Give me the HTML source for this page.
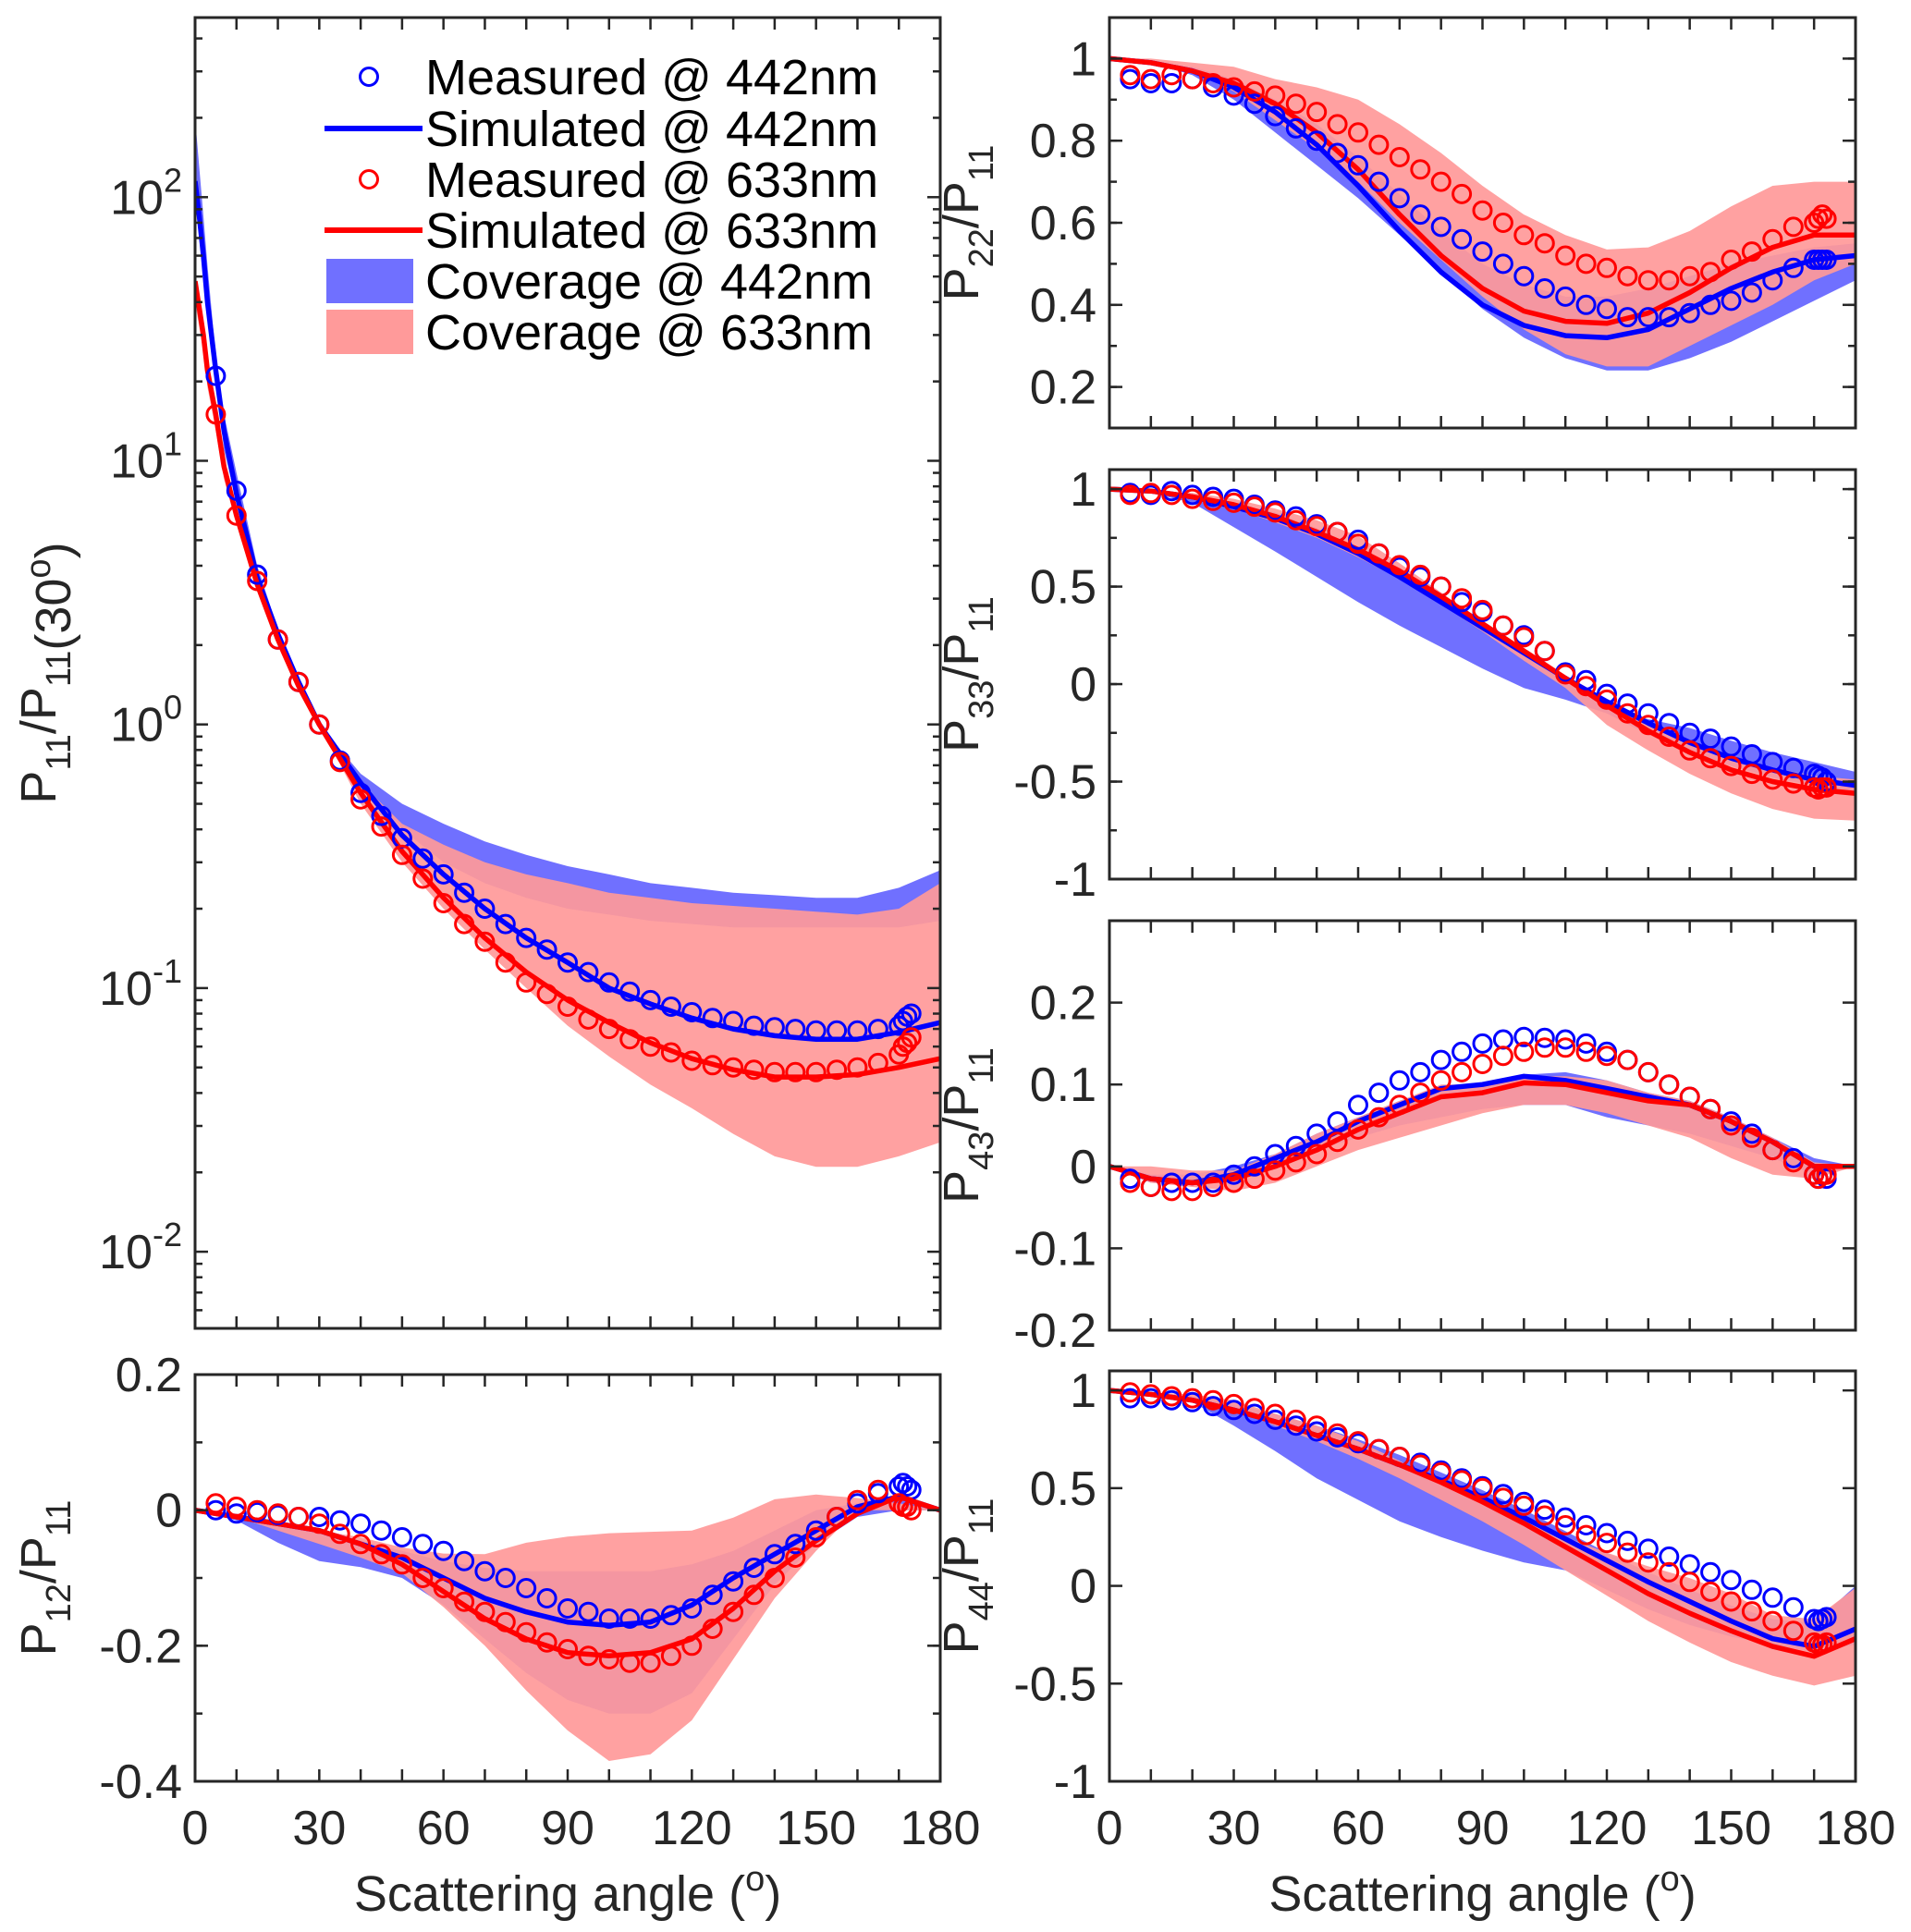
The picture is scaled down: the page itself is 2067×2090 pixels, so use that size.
<!DOCTYPE html>
<html><head><meta charset="utf-8"><style>
html,body{margin:0;padding:0;background:#fff;}
svg{display:block;font-family:"Liberation Sans",Arial,sans-serif;}
</style></head><body>
<svg id="fig" width="2067" height="2090" viewBox="0 0 2067 2090" xmlns="http://www.w3.org/2000/svg"></svg>
<script>
// ---------- DATA ----------
const measAngles = [5,10,15,20,25,30,35,40,45,50,55,60,65,70,75,80,85,90,95,100,105,110,115,120,125,130,135,140,145,150,155,160,165,170,171,172,173];

// P11/P11(30)
const p11MeasBlue = [21,7.7,3.7,2.1,1.45,1.0,0.73,0.55,0.45,0.37,0.31,0.27,0.23,0.2,0.175,0.155,0.14,0.125,0.115,0.105,0.097,0.09,0.085,0.081,0.077,0.075,0.072,0.071,0.07,0.069,0.069,0.069,0.07,0.072,0.075,0.078,0.08];
const p11MeasRed = [15,6.2,3.5,2.1,1.45,1.0,0.72,0.52,0.41,0.32,0.26,0.21,0.175,0.15,0.125,0.105,0.095,0.085,0.076,0.07,0.064,0.06,0.057,0.053,0.051,0.05,0.049,0.048,0.048,0.048,0.049,0.05,0.052,0.056,0.06,0.062,0.065];
const p11SimAngles = [0,1,2,3,5,7,10,15,20,25,30,40,50,60,70,80,90,100,110,120,130,140,150,160,170,180];
const p11SimBlue = [115,85,60,40,22,13,7.5,3.6,2.2,1.45,1.0,0.6,0.38,0.27,0.2,0.155,0.125,0.1,0.087,0.077,0.07,0.066,0.064,0.064,0.068,0.074];
const p11SimRed = [48,38,30,22,15,9.5,6.2,3.4,2.1,1.4,1.0,0.55,0.33,0.22,0.155,0.115,0.09,0.074,0.062,0.054,0.049,0.046,0.046,0.047,0.05,0.054];
const p11CovBlueHi = [200,130,85,55,25,15,9,4,2.3,1.5,1.0,0.65,0.5,0.42,0.36,0.32,0.29,0.27,0.25,0.24,0.23,0.225,0.22,0.22,0.24,0.28];
const p11CovBlueLo = [100,70,50,35,20,11,7,3.4,2.1,1.4,1.0,0.6,0.4,0.3,0.25,0.22,0.2,0.19,0.18,0.175,0.17,0.17,0.17,0.17,0.17,0.18];
const p11CovRedHi = [50,40,32,24,16,10,6.5,3.6,2.2,1.45,1.0,0.6,0.42,0.35,0.3,0.27,0.25,0.23,0.22,0.21,0.205,0.2,0.195,0.19,0.2,0.25];
const p11CovRedLo = [40,32,26,19,13,8.5,5.8,3.2,2.0,1.35,1.0,0.5,0.3,0.2,0.14,0.1,0.072,0.055,0.043,0.035,0.028,0.023,0.021,0.021,0.023,0.026];

// P12/P11
const p12MeasBlue = [0,-0.005,-0.003,-0.007,-0.01,-0.01,-0.015,-0.02,-0.03,-0.04,-0.05,-0.06,-0.075,-0.09,-0.1,-0.115,-0.13,-0.145,-0.15,-0.16,-0.16,-0.16,-0.155,-0.145,-0.125,-0.105,-0.085,-0.065,-0.05,-0.03,-0.01,0.01,0.025,0.035,0.04,0.035,0.03];
const p12MeasRed = [0.01,0.005,0,-0.005,-0.01,-0.02,-0.035,-0.05,-0.065,-0.08,-0.1,-0.115,-0.135,-0.15,-0.165,-0.18,-0.195,-0.205,-0.215,-0.22,-0.225,-0.225,-0.215,-0.2,-0.175,-0.15,-0.125,-0.1,-0.07,-0.04,-0.01,0.015,0.03,0.01,0.005,0.005,0];
const curveAngles = [0,10,20,30,40,50,60,70,80,90,100,110,120,130,140,150,160,170,180];
const p12SimBlue = [0,-0.01,-0.02,-0.03,-0.05,-0.07,-0.1,-0.13,-0.15,-0.165,-0.17,-0.165,-0.14,-0.1,-0.065,-0.03,0.005,0.02,0];
const p12SimRed = [0,-0.01,-0.02,-0.03,-0.05,-0.08,-0.12,-0.16,-0.19,-0.21,-0.215,-0.21,-0.19,-0.145,-0.09,-0.045,-0.005,0.02,0];
const p12CovBlueHi = [0,-0.005,-0.02,-0.03,-0.045,-0.06,-0.075,-0.085,-0.09,-0.09,-0.09,-0.09,-0.08,-0.06,-0.03,0,0.01,0.02,0];
const p12CovBlueLo = [0,-0.015,-0.048,-0.075,-0.084,-0.1,-0.14,-0.19,-0.24,-0.28,-0.3,-0.3,-0.27,-0.19,-0.11,-0.05,-0.01,0,0];
const p12CovRedHi = [0,-0.005,-0.02,-0.03,-0.04,-0.055,-0.064,-0.065,-0.048,-0.039,-0.034,-0.032,-0.03,-0.011,0.016,0.023,0.018,0.01,0];
const p12CovRedLo = [0,-0.01,-0.03,-0.05,-0.07,-0.093,-0.143,-0.2,-0.266,-0.325,-0.37,-0.36,-0.31,-0.22,-0.13,-0.06,0,0,0];

// P22/P11
const p22MeasBlue = [0.95,0.94,0.94,0.95,0.93,0.91,0.89,0.86,0.83,0.8,0.77,0.74,0.7,0.66,0.62,0.59,0.56,0.53,0.5,0.47,0.44,0.42,0.4,0.39,0.37,0.37,0.37,0.38,0.4,0.41,0.43,0.46,0.49,0.51,0.51,0.51,0.51];
const p22MeasRed = [0.96,0.95,0.96,0.95,0.94,0.93,0.92,0.91,0.89,0.87,0.84,0.82,0.79,0.76,0.73,0.7,0.67,0.63,0.6,0.57,0.55,0.52,0.5,0.49,0.47,0.46,0.46,0.47,0.48,0.51,0.53,0.56,0.59,0.6,0.61,0.62,0.61];
const p22SimBlue = [1,0.99,0.97,0.93,0.87,0.79,0.69,0.58,0.48,0.4,0.35,0.325,0.32,0.34,0.39,0.44,0.48,0.51,0.52];
const p22SimRed = [1,0.99,0.97,0.94,0.89,0.82,0.73,0.62,0.52,0.44,0.385,0.36,0.355,0.38,0.43,0.49,0.54,0.57,0.57];
const p22CovBlueHi = [1,0.99,0.98,0.95,0.9,0.84,0.76,0.67,0.58,0.5,0.45,0.42,0.42,0.44,0.47,0.5,0.52,0.54,0.55];
const p22CovBlueLo = [1,0.99,0.96,0.9,0.82,0.74,0.66,0.57,0.48,0.39,0.32,0.27,0.24,0.24,0.27,0.31,0.36,0.41,0.46];
const p22CovRedHi = [1,1,0.99,0.98,0.95,0.93,0.9,0.84,0.77,0.69,0.62,0.57,0.535,0.54,0.58,0.64,0.69,0.7,0.7];
const p22CovRedLo = [1,0.99,0.97,0.92,0.85,0.78,0.7,0.6,0.51,0.42,0.34,0.28,0.25,0.25,0.3,0.35,0.4,0.46,0.5];

// P33/P11
const p33MeasBlue = [0.98,0.97,0.99,0.97,0.96,0.95,0.92,0.89,0.86,0.82,0.78,0.74,0.67,0.6,0.55,0.5,0.42,0.37,0.3,0.25,0.17,0.06,0.02,-0.05,-0.1,-0.15,-0.2,-0.25,-0.28,-0.32,-0.36,-0.4,-0.43,-0.46,-0.47,-0.48,-0.5];
const p33MeasRed = [0.97,0.98,0.97,0.95,0.94,0.93,0.91,0.88,0.84,0.81,0.78,0.72,0.67,0.61,0.56,0.5,0.44,0.38,0.3,0.24,0.17,0.05,-0.01,-0.08,-0.15,-0.21,-0.27,-0.34,-0.38,-0.42,-0.46,-0.49,-0.51,-0.53,-0.54,-0.53,-0.53];
const p33SimBlue = [1,0.99,0.96,0.91,0.85,0.77,0.67,0.55,0.42,0.29,0.16,0.03,-0.09,-0.2,-0.3,-0.38,-0.44,-0.49,-0.52];
const p33SimRed = [1,0.99,0.96,0.92,0.86,0.78,0.69,0.58,0.45,0.31,0.17,0.03,-0.11,-0.24,-0.35,-0.44,-0.5,-0.54,-0.56];
const p33CovBlueHi = [1,0.99,0.97,0.93,0.88,0.8,0.7,0.58,0.45,0.31,0.17,0.03,-0.13,-0.18,-0.225,-0.29,-0.35,-0.4,-0.45];
const p33CovBlueLo = [1,0.98,0.93,0.805,0.68,0.55,0.42,0.3,0.19,0.08,-0.02,-0.08,-0.15,-0.26,-0.35,-0.42,-0.48,-0.52,-0.56];
const p33CovRedHi = [1,0.99,0.98,0.95,0.9,0.84,0.76,0.62,0.47,0.32,0.17,0.04,-0.09,-0.2,-0.3,-0.38,-0.43,-0.47,-0.49];
const p33CovRedLo = [1,0.99,0.95,0.9,0.83,0.75,0.65,0.54,0.41,0.27,0.12,-0.02,-0.21,-0.34,-0.46,-0.56,-0.64,-0.69,-0.7];

// P43/P11
const p43MeasBlue = [-0.015,-0.025,-0.02,-0.02,-0.02,-0.01,0,0.015,0.025,0.04,0.055,0.075,0.09,0.105,0.115,0.13,0.14,0.15,0.155,0.158,0.157,0.155,0.15,0.14,0.13,0.115,0.1,0.085,0.07,0.055,0.04,0.02,0.01,-0.01,-0.015,-0.01,-0.015];
const p43MeasRed = [-0.02,-0.025,-0.03,-0.03,-0.025,-0.02,-0.015,-0.005,0.005,0.015,0.03,0.045,0.06,0.075,0.09,0.105,0.115,0.125,0.135,0.14,0.145,0.145,0.14,0.135,0.13,0.115,0.1,0.085,0.07,0.05,0.035,0.02,0.005,-0.01,-0.015,-0.01,-0.01];
const p43SimBlue = [0,-0.015,-0.02,-0.01,0.01,0.03,0.055,0.075,0.095,0.1,0.11,0.105,0.095,0.085,0.075,0.055,0.03,0,0];
const p43SimRed = [0,-0.015,-0.02,-0.015,0,0.02,0.045,0.065,0.085,0.09,0.102,0.1,0.09,0.08,0.075,0.055,0.03,0,0];
const p43CovBlueHi = [0,-0.01,-0.01,0,0.015,0.04,0.06,0.08,0.095,0.1,0.112,0.115,0.105,0.09,0.08,0.06,0.035,0.01,0];
const p43CovBlueLo = [0,-0.02,-0.02,-0.015,0,0.02,0.035,0.05,0.06,0.07,0.075,0.075,0.06,0.05,0.04,0.025,0.01,-0.01,0];
const p43CovRedHi = [0,0,-0.005,-0.005,0.015,0.04,0.06,0.08,0.1,0.1,0.11,0.11,0.105,0.09,0.08,0.06,0.035,0.005,0];
const p43CovRedLo = [0,-0.02,-0.025,-0.03,-0.02,0,0.02,0.035,0.05,0.065,0.075,0.075,0.065,0.05,0.035,0.01,-0.01,-0.015,0];

// P44/P11
const p44MeasBlue = [0.96,0.96,0.95,0.94,0.92,0.9,0.88,0.85,0.82,0.79,0.76,0.73,0.7,0.66,0.63,0.59,0.55,0.51,0.47,0.43,0.39,0.35,0.31,0.27,0.23,0.19,0.15,0.11,0.07,0.03,-0.02,-0.06,-0.11,-0.17,-0.18,-0.17,-0.16];
const p44MeasRed = [0.99,0.98,0.97,0.96,0.95,0.93,0.91,0.88,0.85,0.82,0.78,0.74,0.7,0.66,0.62,0.58,0.54,0.5,0.45,0.41,0.36,0.31,0.26,0.22,0.17,0.12,0.07,0.02,-0.03,-0.08,-0.13,-0.18,-0.23,-0.29,-0.3,-0.3,-0.29];
const p44SimBlue = [1,0.98,0.95,0.9,0.84,0.77,0.7,0.62,0.54,0.45,0.35,0.24,0.13,0.02,-0.08,-0.18,-0.27,-0.31,-0.22];
const p44SimRed = [1,0.98,0.95,0.9,0.84,0.77,0.7,0.62,0.53,0.43,0.32,0.2,0.08,-0.04,-0.14,-0.23,-0.31,-0.36,-0.27];
const p44CovBlueHi = [1,0.99,0.97,0.93,0.88,0.82,0.75,0.67,0.58,0.49,0.39,0.28,0.17,0.07,-0.02,-0.1,-0.17,-0.19,0];
const p44CovBlueLo = [1,0.98,0.94,0.82,0.69,0.55,0.44,0.33,0.25,0.18,0.12,0.08,-0.02,-0.12,-0.2,-0.26,-0.3,-0.34,-0.3];
const p44CovRedHi = [1,0.99,0.98,0.95,0.88,0.82,0.74,0.64,0.53,0.43,0.33,0.25,0.17,0.1,0.04,-0.04,-0.15,-0.17,-0.01];
const p44CovRedLo = [1,0.99,0.96,0.9,0.82,0.74,0.65,0.55,0.44,0.33,0.21,0.08,-0.05,-0.18,-0.29,-0.39,-0.46,-0.51,-0.46];

const xTickLabels = ["0","30","60","90","120","150","180"];

// ---------- DRAWING ----------
const NS = "http://www.w3.org/2000/svg";
const svg = document.getElementById("fig");
const BLUE = "#0000ff", RED = "#ff0000";
function mk(tag, attrs, parent) {
  const e = document.createElementNS(NS, tag);
  for (const k in attrs) e.setAttribute(k, attrs[k]);
  (parent || svg).appendChild(e);
  return e;
}

function panel(cfg) {
  const g = mk("g", {});
  
  
  const tf = cfg.log ? (v => Math.log10(v)) : (v => v);
  const y0 = tf(cfg.ymin), y1 = tf(cfg.ymax);
  const X = a => cfg.x0 + (a / 180) * (cfg.x1 - cfg.x0);
  const Y = v => cfg.y1 - (tf(v) - y0) / (y1 - y0) * (cfg.y1 - cfg.y0);
  const clipId = "clip-" + cfg.name;
  const cp = mk("clipPath", { id: clipId }, g);
  mk("rect", { x: cfg.x0, y: cfg.y0, width: cfg.x1 - cfg.x0, height: cfg.y1 - cfg.y0 }, cp);
  const plot = mk("g", { "clip-path": "url(#" + clipId + ")" }, g);

  function band(ang, hi, lo, fill, op, nm) {
    let pts = ang.map((a, i) => X(a).toFixed(1) + "," + Y(hi[i]).toFixed(1));
    for (let i = ang.length - 1; i >= 0; i--) pts.push(X(ang[i]).toFixed(1) + "," + Y(lo[i]).toFixed(1));
    const p = mk("polygon", { points: pts.join(" "), fill: fill, "fill-opacity": op }, plot);
    
    
  }
  function line(ang, vals, col, nm) {
    const pts = ang.map((a, i) => X(a).toFixed(1) + "," + Y(vals[i]).toFixed(1)).join(" ");
    const p = mk("polyline", { points: pts, fill: "none", stroke: col, "stroke-width": 5.5, "stroke-linejoin": "round" }, plot);
    
    
  }
  function markers(vals, col, nm) {
    const mg = mk("g", {}, g);
    
    
    measAngles.forEach((a, i) => {
      const c = mk("circle", { cx: X(a).toFixed(1), cy: Y(vals[i]).toFixed(1), r: 9.5, fill: "none", stroke: col, "stroke-width": 3 }, mg);
      
      
    });
  }
  const d = cfg.d;
  band(d.ang, d.bHi, d.bLo, "#7070ff", 1, "coverage-442nm");
  band(d.ang, d.rHi, d.rLo, "#ff9999", 0.92, "coverage-633nm");
  markers(d.mB, BLUE, "measured-442nm");
  markers(d.mR, RED, "measured-633nm");
  line(d.ang, d.sB, BLUE, "simulated-442nm");
  line(d.ang, d.sR, RED, "simulated-633nm");

  const box = mk("rect", { x: cfg.x0, y: cfg.y0, width: cfg.x1 - cfg.x0, height: cfg.y1 - cfg.y0, fill: "none", stroke: "#262626", "stroke-width": 3 }, g);
  
  
  for (let a = 0; a <= 180; a += 10) {
    const x = X(a);
    mk("line", { x1: x, y1: cfg.y1, x2: x, y2: cfg.y1 - 13, stroke: "#262626", "stroke-width": 2.5 }, g);
    mk("line", { x1: x, y1: cfg.y0, x2: x, y2: cfg.y0 + 13, stroke: "#262626", "stroke-width": 2.5 }, g);
  }
  if (cfg.xlabels) {
    xTickLabels.forEach(t => {
      const tx = mk("text", { x: X(+t), y: cfg.y1 + 68, "font-size": 52, "text-anchor": "middle", fill: "#262626" }, g);
      tx.textContent = t;
      
      
    });
    const xl = mk("text", { x: (cfg.x0 + cfg.x1) / 2, y: cfg.y1 + 140, "font-size": 54, "text-anchor": "middle", fill: "#262626" }, g);
    xl.innerHTML = 'Scattering angle (<tspan dy="-22" font-size="38">o</tspan><tspan dy="22">)</tspan>';
    
    
  }
  cfg.minor.forEach(v => {
    const y = Y(v);
    mk("line", { x1: cfg.x0, y1: y, x2: cfg.x0 + 8, y2: y, stroke: "#262626", "stroke-width": 2.5 }, g);
    mk("line", { x1: cfg.x1, y1: y, x2: cfg.x1 - 8, y2: y, stroke: "#262626", "stroke-width": 2.5 }, g);
  });
  cfg.yticks.forEach((v, i) => {
    const y = Y(v);
    mk("line", { x1: cfg.x0, y1: y, x2: cfg.x0 + 14, y2: y, stroke: "#262626", "stroke-width": 2.5 }, g);
    mk("line", { x1: cfg.x1, y1: y, x2: cfg.x1 - 14, y2: y, stroke: "#262626", "stroke-width": 2.5 }, g);
    const tx = mk("text", { x: cfg.x0 - 14, y: y + 18, "font-size": 52, "text-anchor": "end", fill: "#262626" }, g);
    if (cfg.log) tx.innerHTML = '10<tspan dy="-24" font-size="36">' + cfg.ylabels[i] + '</tspan>';
    else tx.textContent = cfg.ylabels[i];
    
    
  });
  const cy = (cfg.y0 + cfg.y1) / 2;
  const yl = mk("text", { x: 0, y: 0, "font-size": 54, "text-anchor": "middle", fill: "#262626", transform: "translate(" + cfg.labx + "," + cy + ") rotate(-90)" }, g);
  yl.innerHTML = cfg.ytitle;
  
  
}

function sub(a, b) {
  return 'P<tspan dy="16" font-size="38">' + a + '</tspan><tspan dy="-16">/P</tspan><tspan dy="16" font-size="38">' + b + '</tspan><tspan dy="-16"></tspan>';
}
function lin(a, b, s) { const r = []; for (let v = a; v <= b + 1e-9; v += s) r.push(+v.toFixed(3)); return r; }

const logMinor = [];
for (let e = -3; e <= 2; e++) for (let m = 2; m <= 9; m++) { const v = m * Math.pow(10, e); if (v > 0.0051 && v < 480) logMinor.push(v); }

const LX0 = 211, LX1 = 1017, RX0 = 1200, RX1 = 2007;
panel({ name: "p11-panel", x0: LX0, x1: LX1, y0: 19, y1: 1437, ymin: 0.00512, ymax: 480, log: true,
  yticks: [100, 10, 1, 0.1, 0.01], ylabels: ["2", "1", "0", "-1", "-2"], minor: logMinor, labx: 60,
  ytitle: sub("11", "11") + '(30<tspan dy="-22" font-size="38">o</tspan><tspan dy="22">)</tspan>',
  d: { ang: p11SimAngles, bHi: p11CovBlueHi, bLo: p11CovBlueLo, rHi: p11CovRedHi, rLo: p11CovRedLo, mB: p11MeasBlue, mR: p11MeasRed, sB: p11SimBlue, sR: p11SimRed } });
panel({ name: "p12-panel", x0: LX0, x1: LX1, y0: 1487, y1: 1927, ymin: -0.4, ymax: 0.2, xlabels: true,
  yticks: [0.2, 0, -0.2, -0.4], ylabels: ["0.2", "0", "-0.2", "-0.4"], minor: lin(-0.4, 0.2, 0.1), labx: 60, ytitle: sub("12", "11"),
  d: { ang: curveAngles, bHi: p12CovBlueHi, bLo: p12CovBlueLo, rHi: p12CovRedHi, rLo: p12CovRedLo, mB: p12MeasBlue, mR: p12MeasRed, sB: p12SimBlue, sR: p12SimRed } });
panel({ name: "p22-panel", x0: RX0, x1: RX1, y0: 19, y1: 463, ymin: 0.1, ymax: 1.1,
  yticks: [1, 0.8, 0.6, 0.4, 0.2], ylabels: ["1", "0.8", "0.6", "0.4", "0.2"], minor: lin(0.1, 1.1, 0.1), labx: 1058, ytitle: sub("22", "11"),
  d: { ang: curveAngles, bHi: p22CovBlueHi, bLo: p22CovBlueLo, rHi: p22CovRedHi, rLo: p22CovRedLo, mB: p22MeasBlue, mR: p22MeasRed, sB: p22SimBlue, sR: p22SimRed } });
panel({ name: "p33-panel", x0: RX0, x1: RX1, y0: 508, y1: 951, ymin: -1, ymax: 1.1,
  yticks: [1, 0.5, 0, -0.5, -1], ylabels: ["1", "0.5", "0", "-0.5", "-1"], minor: lin(-1, 1, 0.25), labx: 1058, ytitle: sub("33", "11"),
  d: { ang: curveAngles, bHi: p33CovBlueHi, bLo: p33CovBlueLo, rHi: p33CovRedHi, rLo: p33CovRedLo, mB: p33MeasBlue, mR: p33MeasRed, sB: p33SimBlue, sR: p33SimRed } });
panel({ name: "p43-panel", x0: RX0, x1: RX1, y0: 996, y1: 1439, ymin: -0.2, ymax: 0.3,
  yticks: [0.2, 0.1, 0, -0.1, -0.2], ylabels: ["0.2", "0.1", "0", "-0.1", "-0.2"], minor: [], labx: 1058, ytitle: sub("43", "11"),
  d: { ang: curveAngles, bHi: p43CovBlueHi, bLo: p43CovBlueLo, rHi: p43CovRedHi, rLo: p43CovRedLo, mB: p43MeasBlue, mR: p43MeasRed, sB: p43SimBlue, sR: p43SimRed } });
panel({ name: "p44-panel", x0: RX0, x1: RX1, y0: 1483, y1: 1927, ymin: -1, ymax: 1.1, xlabels: true,
  yticks: [1, 0.5, 0, -0.5, -1], ylabels: ["1", "0.5", "0", "-0.5", "-1"], minor: [], labx: 1058, ytitle: sub("44", "11"),
  d: { ang: curveAngles, bHi: p44CovBlueHi, bLo: p44CovBlueLo, rHi: p44CovRedHi, rLo: p44CovRedLo, mB: p44MeasBlue, mR: p44MeasRed, sB: p44SimBlue, sR: p44SimRed } });

// legend
const legend = mk("g", {});


const legText = ["Measured @ 442nm", "Simulated @ 442nm", "Measured @ 633nm", "Simulated @ 633nm", "Coverage @ 442nm", "Coverage @ 633nm"];
const legY = [83, 139, 194, 249, 304, 359];
legText.forEach((t, i) => {
  const y = legY[i];
  const e = mk("g", {}, legend);
  
  
  if (i === 0 || i === 2) mk("circle", { cx: 399, cy: y, r: 9.5, fill: "none", stroke: i === 0 ? BLUE : RED, "stroke-width": 3 }, e);
  else if (i === 1 || i === 3) mk("line", { x1: 351, y1: y, x2: 457, y2: y, stroke: i === 1 ? BLUE : RED, "stroke-width": 6 }, e);
  else mk("rect", { x: 353, y: y - 24, width: 94, height: 48, fill: i === 4 ? "#7070ff" : "#ff9a9a" }, e);
  const tx = mk("text", { x: 460, y: y + 19, "font-size": 54, fill: "#000" }, e);
  tx.textContent = t;
});
</script>
</body></html>
